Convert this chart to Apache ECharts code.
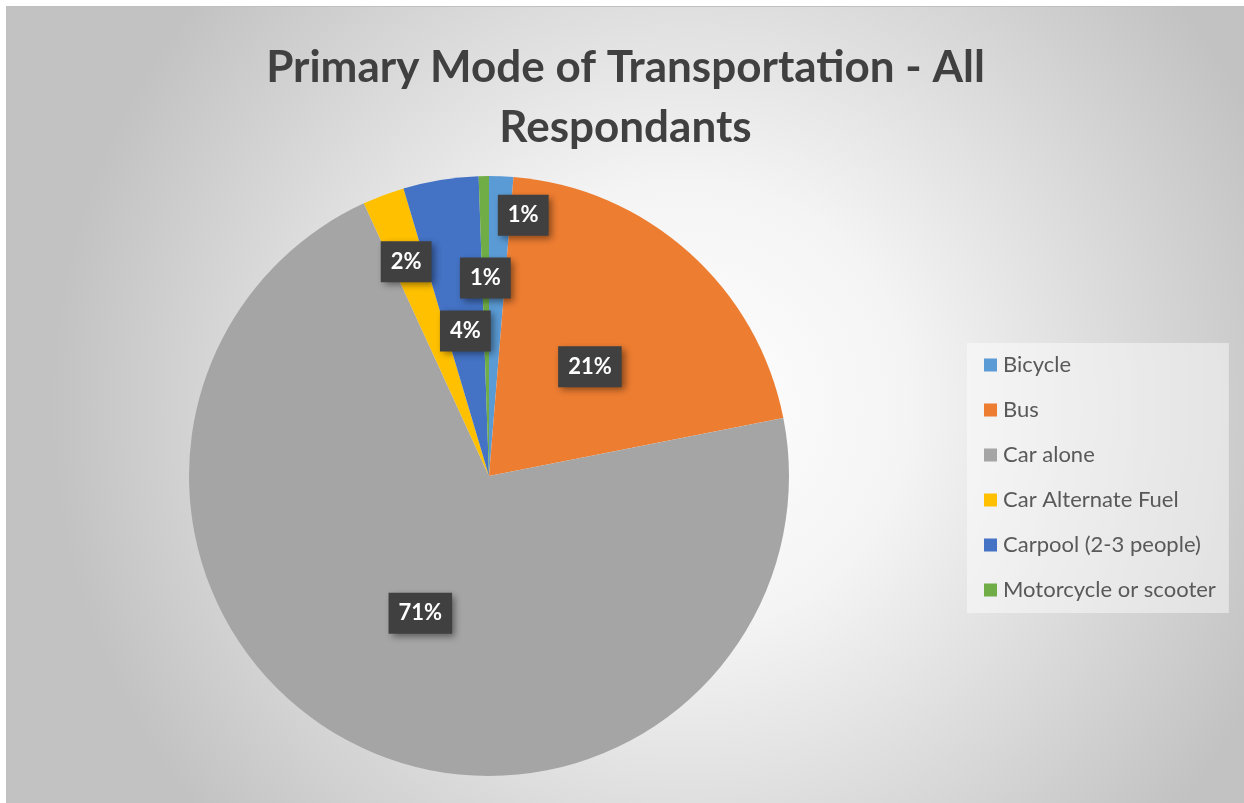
<!DOCTYPE html>
<html>
<head>
  <meta http-equiv="Content-Type" content="text/html; charset=utf-8"/>
  <title>Primary Mode of Transportation</title>
  <script src="https://cdn.jsdelivr.net/npm/echarts@6/dist/echarts.min.js"></script>
  <style>
    html, body { margin:0; padding:0; background:#fff; }
    #chart { position:absolute; left:6px; top:6px; width:1238px; height:797px;
             border-left:1px solid #c0c0c0; border-top:1px solid #c0c0c0; box-sizing:border-box; }
  </style>
</head>
<body>
<div id="chart"></div>

<script type="text/javascript">
var categories = ['Bicycle', 'Bus', 'Car alone', 'Car Alternate Fuel', 'Carpool (2-3 people)', 'Motorcycle or scooter'];
var shares = [1.3, 20.6, 71.25, 2.25, 4.05, 0.55];
var colors = ['#5B9BD5', '#ED7D31', '#A5A5A5', '#FFC000', '#4472C4', '#70AD47'];

// Excel "best fit" label spots, as a shift from the inside position
var labelShift = [[28, -108], [-1, 5], [1, 1], [-29, -71], [1, 6], [-1, -45]];

var pieData = [];
for (var i = 0; i < categories.length; i++) {
  pieData.push({ name: categories[i], value: shares[i] });
}

var chart = echarts.init(document.getElementById('chart'));
var option = {
  backgroundColor: {
    type: 'radial', x: 0.55, y: 0.5, r: 0.8,
    colorStops: [
      { offset: 0, color: '#ffffff' },
      { offset: 0.35, color: '#f4f4f4' },
      { offset: 1, color: '#c2c2c2' }
    ]
  },
  color: colors,
  title: {
    text: 'Primary Mode of Transportation - All\nRespondants',
    left: 'center',
    top: 26,
    textStyle: {
      fontFamily: 'Lato', fontWeight: 'bold', fontSize: 44,
      lineHeight: 60, color: '#404040'
    }
  },
  legend: {
    orient: 'vertical',
    left: 960,
    top: 336,
    padding: [11, 13, 12, 17],
    backgroundColor: 'rgba(255,255,255,0.45)',
    itemWidth: 13,
    itemHeight: 13,
    itemGap: 23,
    icon: 'rect',
    textStyle: { fontFamily: 'Lato', fontSize: 22, lineHeight: 22, color: '#595959', padding: [0, 0, 0, 1] },
    data: categories
  },
  series: [{
    type: 'pie',
    center: [482, 469],
    radius: 300,
    startAngle: 90,
    clockwise: true,
    animation: false,
    silent: true,
    data: pieData,
    label: {
      position: 'inside',
      formatter: function (p) { return Math.round(p.percent) + '%'; },
      fontFamily: 'Lato', fontWeight: 'bold', fontSize: 22, lineHeight: 22, color: '#ffffff',
      backgroundColor: '#404040',
      padding: [10, 10, 9, 10],
      shadowColor: 'rgba(0,0,0,0.45)',
      shadowBlur: 7,
      shadowOffsetX: 3,
      shadowOffsetY: 3
    },
    labelLine: { show: false },
    labelLayout: function (params) {
      var s = labelShift[params.dataIndex];
      return { dx: s[0], dy: s[1] };
    }
  }]
};
chart.setOption(option);
</script>
</body>
</html>
